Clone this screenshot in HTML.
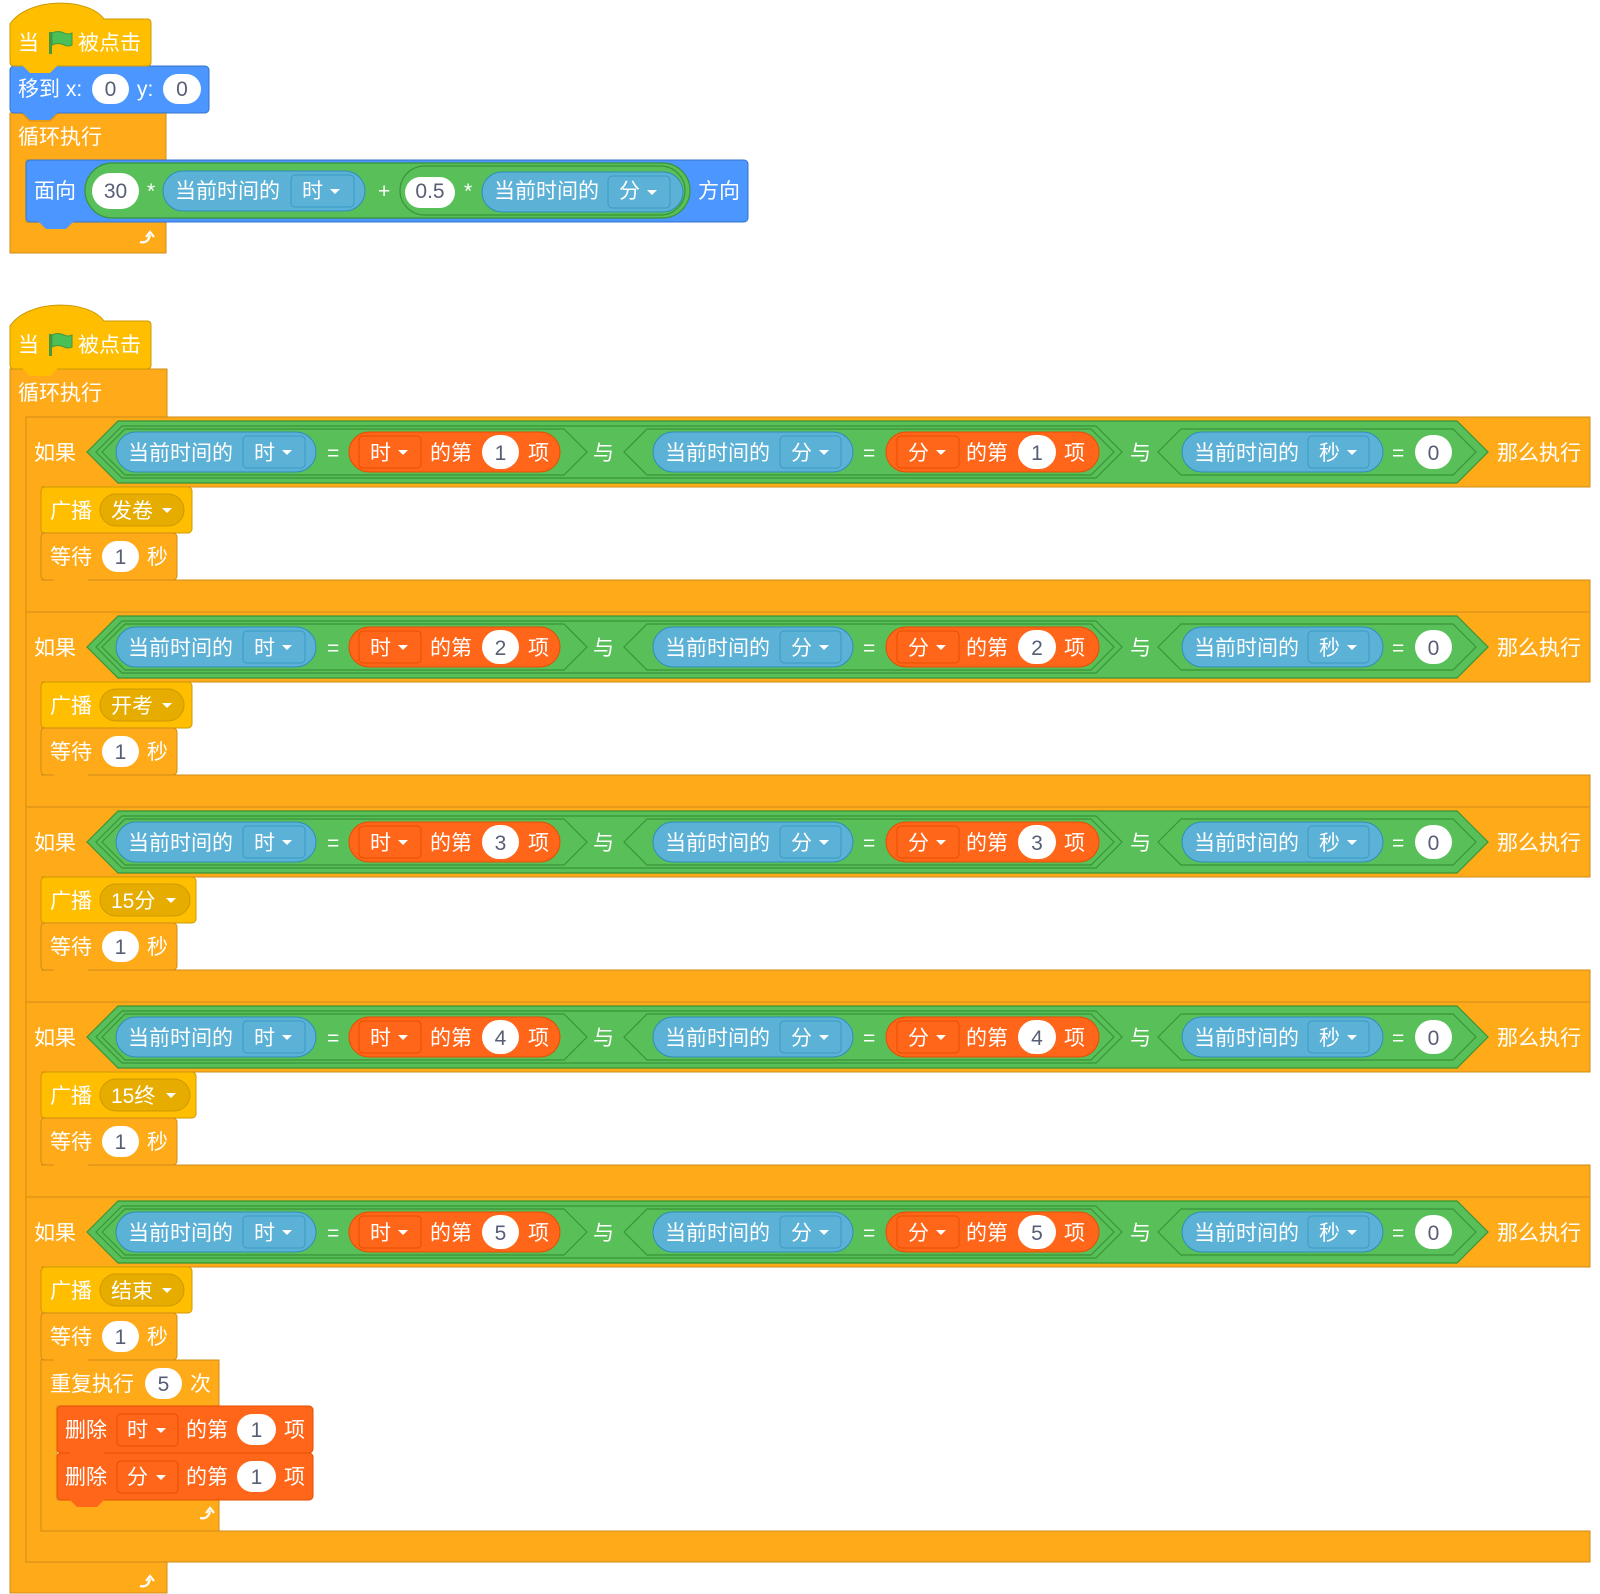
<!DOCTYPE html>
<html><head><meta charset="utf-8"><style>
html,body{margin:0;padding:0;background:#fff;}
svg{display:block;}
text{font-family:"Liberation Sans","Noto Sans CJK SC",sans-serif;font-size:21px;fill:#fff;}
.d{fill:#575E75;}
.g{fill:#59C059;stroke:#389438;stroke-width:1.2;}
.s{fill:#5CB1D6;stroke:#2E8EB8;stroke-width:1;}
.sb{fill:#5CB1D6;stroke:#3A9AC4;stroke-width:1;}
.l{fill:#FF661A;stroke:#E64D00;stroke-width:1;}
.lb{fill:#FF661A;stroke:#E64D00;stroke-width:1;}
.wi{fill:#fff;}
.w{fill:#fff;}
.c{fill:#FFAB19;stroke:#CF8B17;stroke-width:1;}
.e{fill:#FFBF00;stroke:#CC9900;stroke-width:1;}
.eb{fill:#E6AC00;stroke:#CC9900;stroke-width:1;}
.m{fill:#4C97FF;stroke:#3373CC;stroke-width:1;}
</style></head><body>
<svg width="1600" height="1594" viewBox="0 0 1600 1594" xmlns="http://www.w3.org/2000/svg">

<!-- ================= SCRIPT 1 ================= -->
<path class="c" d="M10,113 H166 V160 H26 V222 H166 V253 H10 Z"/>
<path class="c" d="M10,113 h12 l8,8 h20 l8,-8 z" stroke="none"/>
<!-- move block -->
<rect class="m" x="10" y="66" width="199" height="47" rx="4"/>
<path d="M22,112 l8,8 h20 l8,-8 z" fill="#4C97FF"/>
<text x="18" y="96">移到 x:</text>
<rect class="wi" x="92" y="74" width="37" height="30" rx="15"/><text class="d" x="110.5" y="96" text-anchor="middle">0</text>
<text x="137" y="96">y:</text>
<rect class="wi" x="163" y="74" width="38" height="30" rx="15"/><text class="d" x="182" y="96" text-anchor="middle">0</text>
<!-- hat -->
<path class="e" d="M10,24 C28,-3 88,-3 104,19 L147,19 Q151,19 151,23 L151,62 Q151,66 147,66 L14,66 Q10,66 10,62 Z"/>
<path d="M22,65 l8,8 h20 l8,-8 z" fill="#FFBF00"/>
<text x="18" y="50">当</text>
<rect x="49" y="32" width="3" height="22" fill="#45993D"/>
<path d="M52,33 q6,-3 12,0 q4,2 8,0 v12 q-4,2 -8,0 q-6,-3 -12,0 z" fill="#4CBF56" stroke="#45993D" stroke-width="1"/>
<text x="78" y="50">被点击</text>
<text x="18" y="144">循环执行</text>
<!-- direction block -->
<rect class="m" x="26" y="160" width="722" height="62" rx="4"/>
<path d="M38,221 l8,8 h20 l8,-8 z" fill="#4C97FF"/>
<text x="34" y="198">面向</text>
<rect class="g" x="85" y="163" width="605" height="55" rx="27.5"/>
<rect class="wi" x="92" y="173" width="47" height="36" rx="18"/><text class="d" x="115.5" y="198" text-anchor="middle">30</text>
<text x="147" y="198">*</text>
<rect class="s" x="163" y="171" width="202" height="40" rx="20"/>
<text x="175" y="198">当前时间的</text>
<rect class="sb" x="291" y="175" width="63" height="32" rx="4"/>
<text x="302" y="198">时</text><path d="M330,189 h10 l-5,5z" class="w"/>
<text x="378" y="198">+</text>
<rect class="g" x="400" y="166" width="285" height="49" rx="24.5"/>
<rect class="wi" x="405" y="177" width="50" height="31" rx="15.5"/><text class="d" x="430" y="198" text-anchor="middle">0.5</text>
<text x="464" y="198">*</text>
<rect class="s" x="482" y="172" width="201" height="40" rx="20"/>
<text x="494" y="198">当前时间的</text>
<rect class="sb" x="608" y="176" width="62" height="32" rx="4"/>
<text x="619" y="198">分</text><path d="M647,190 h10 l-5,5z" class="w"/>
<text x="698" y="198">方向</text>
<path d="M140,242 q8,2 10,-7 m-4,2 l4,-5 l4,5" stroke="#fff" stroke-width="2.2" fill="none"/>

<!-- ================= SCRIPT 2 ================= -->
<path class="c" d="M10,369 H167 V417 H27 V1562 H167 V1593 H10 Z"/>
<path class="e" d="M10,326 C28,299 88,299 104,321 L147,321 Q151,321 151,325 L151,365 Q151,369 147,369 L14,369 Q10,369 10,365 Z"/>
<path d="M22,368 l8,8 h20 l8,-8 z" fill="#FFBF00"/>
<text x="18" y="352">当</text>
<rect x="49" y="334" width="3" height="22" fill="#45993D"/>
<path d="M52,335 q6,-3 12,0 q4,2 8,0 v12 q-4,2 -8,0 q-6,-3 -12,0 z" fill="#4CBF56" stroke="#45993D" stroke-width="1"/>
<text x="78" y="352">被点击</text>
<text x="18" y="400">循环执行</text>
<path d="M140,1586 q8,2 10,-7 m-4,2 l4,-5 l4,5" stroke="#fff" stroke-width="2.2" fill="none"/>

<!-- IF 1 -->
<g transform="translate(0,417)">
<path class="c" d="M26,0 H1590 V70 H42 V163 H1590 V195 H26 Z"/>
<polygon class="g" points="87,35 118,4 1457,4 1488,35 1457,66 118,66"/>
<polygon class="g" points="96,35 122,9 1096,9 1122,35 1096,61 122,61"/>
<polygon class="g" points="102,35 125,12 564,12 587,35 564,58 125,58"/>
<polygon class="g" points="624,35 647,12 1091,12 1114,35 1091,58 647,58"/>
<polygon class="g" points="1158,35 1181,12 1453,12 1476,35 1453,58 1181,58"/>
<text x="34" y="43">如果</text>
<rect class="s" x="116" y="15" width="200" height="40" rx="20"/><text x="128" y="43">当前时间的</text>
<rect class="sb" x="243" y="19" width="62" height="32" rx="4"/><text x="254" y="43">时</text><path d="M282,33 h10 l-5,5z" class="w"/>
<text x="327" y="43">=</text>
<rect class="l" x="349" y="15" width="211" height="40" rx="20"/>
<rect class="lb" x="359" y="19" width="62" height="32" rx="4"/><text x="370" y="43">时</text><path d="M398,33 h10 l-5,5z" class="w"/>
<text x="430" y="43">的第</text>
<rect class="wi" x="482" y="18" width="37" height="34" rx="17"/><text class="d" x="500.5" y="43" text-anchor="middle">1</text>
<text x="528" y="43">项</text>
<text x="593" y="43">与</text>
<rect class="s" x="653" y="15" width="200" height="40" rx="20"/><text x="665" y="43">当前时间的</text>
<rect class="sb" x="780" y="19" width="61" height="32" rx="4"/><text x="791" y="43">分</text><path d="M819,33 h10 l-5,5z" class="w"/>
<text x="863" y="43">=</text>
<rect class="l" x="886" y="15" width="213" height="40" rx="20"/>
<rect class="lb" x="897" y="19" width="62" height="32" rx="4"/><text x="908" y="43">分</text><path d="M936,33 h10 l-5,5z" class="w"/>
<text x="966" y="43">的第</text>
<rect class="wi" x="1018" y="18" width="38" height="34" rx="17"/><text class="d" x="1037" y="43" text-anchor="middle">1</text>
<text x="1064" y="43">项</text>
<text x="1130" y="43">与</text>
<rect class="s" x="1182" y="15" width="201" height="40" rx="20"/><text x="1194" y="43">当前时间的</text>
<rect class="sb" x="1308" y="19" width="61" height="32" rx="4"/><text x="1319" y="43">秒</text><path d="M1347,33 h10 l-5,5z" class="w"/>
<text x="1392" y="43">=</text>
<rect class="wi" x="1415" y="18" width="37" height="34" rx="17"/><text class="d" x="1433.5" y="43" text-anchor="middle">0</text>
<text x="1497" y="43">那么执行</text>
<rect class="e" x="41" y="70" width="151" height="46" rx="4"/>
<path d="M53,115 l8,8 h20 l8,-8 z" fill="#FFBF00"/>
<text x="50" y="101">广播</text>
<rect class="eb" x="100" y="77" width="84" height="32" rx="16"/><text x="111" y="101">发卷</text><path d="M162,91 h10 l-5,5z" class="w"/>
<rect class="c" x="41" y="116" width="136" height="47" rx="4"/>
<path d="M53,162 l8,8 h20 l8,-8 z" fill="#FFAB19"/>
<text x="50" y="147">等待</text>
<rect class="wi" x="102" y="124" width="37" height="31" rx="15.5"/><text class="d" x="120.5" y="147" text-anchor="middle">1</text>
<text x="147" y="147">秒</text>
</g>

<!-- IF 2 -->
<g transform="translate(0,612)">
<path class="c" d="M26,0 H1590 V70 H42 V163 H1590 V195 H26 Z"/>
<polygon class="g" points="87,35 118,4 1457,4 1488,35 1457,66 118,66"/>
<polygon class="g" points="96,35 122,9 1096,9 1122,35 1096,61 122,61"/>
<polygon class="g" points="102,35 125,12 564,12 587,35 564,58 125,58"/>
<polygon class="g" points="624,35 647,12 1091,12 1114,35 1091,58 647,58"/>
<polygon class="g" points="1158,35 1181,12 1453,12 1476,35 1453,58 1181,58"/>
<text x="34" y="43">如果</text>
<rect class="s" x="116" y="15" width="200" height="40" rx="20"/><text x="128" y="43">当前时间的</text>
<rect class="sb" x="243" y="19" width="62" height="32" rx="4"/><text x="254" y="43">时</text><path d="M282,33 h10 l-5,5z" class="w"/>
<text x="327" y="43">=</text>
<rect class="l" x="349" y="15" width="211" height="40" rx="20"/>
<rect class="lb" x="359" y="19" width="62" height="32" rx="4"/><text x="370" y="43">时</text><path d="M398,33 h10 l-5,5z" class="w"/>
<text x="430" y="43">的第</text>
<rect class="wi" x="482" y="18" width="37" height="34" rx="17"/><text class="d" x="500.5" y="43" text-anchor="middle">2</text>
<text x="528" y="43">项</text>
<text x="593" y="43">与</text>
<rect class="s" x="653" y="15" width="200" height="40" rx="20"/><text x="665" y="43">当前时间的</text>
<rect class="sb" x="780" y="19" width="61" height="32" rx="4"/><text x="791" y="43">分</text><path d="M819,33 h10 l-5,5z" class="w"/>
<text x="863" y="43">=</text>
<rect class="l" x="886" y="15" width="213" height="40" rx="20"/>
<rect class="lb" x="897" y="19" width="62" height="32" rx="4"/><text x="908" y="43">分</text><path d="M936,33 h10 l-5,5z" class="w"/>
<text x="966" y="43">的第</text>
<rect class="wi" x="1018" y="18" width="38" height="34" rx="17"/><text class="d" x="1037" y="43" text-anchor="middle">2</text>
<text x="1064" y="43">项</text>
<text x="1130" y="43">与</text>
<rect class="s" x="1182" y="15" width="201" height="40" rx="20"/><text x="1194" y="43">当前时间的</text>
<rect class="sb" x="1308" y="19" width="61" height="32" rx="4"/><text x="1319" y="43">秒</text><path d="M1347,33 h10 l-5,5z" class="w"/>
<text x="1392" y="43">=</text>
<rect class="wi" x="1415" y="18" width="37" height="34" rx="17"/><text class="d" x="1433.5" y="43" text-anchor="middle">0</text>
<text x="1497" y="43">那么执行</text>
<rect class="e" x="41" y="70" width="151" height="46" rx="4"/>
<path d="M53,115 l8,8 h20 l8,-8 z" fill="#FFBF00"/>
<text x="50" y="101">广播</text>
<rect class="eb" x="100" y="77" width="84" height="32" rx="16"/><text x="111" y="101">开考</text><path d="M162,91 h10 l-5,5z" class="w"/>
<rect class="c" x="41" y="116" width="136" height="47" rx="4"/>
<path d="M53,162 l8,8 h20 l8,-8 z" fill="#FFAB19"/>
<text x="50" y="147">等待</text>
<rect class="wi" x="102" y="124" width="37" height="31" rx="15.5"/><text class="d" x="120.5" y="147" text-anchor="middle">1</text>
<text x="147" y="147">秒</text>
</g>

<!-- IF 3 -->
<g transform="translate(0,807)">
<path class="c" d="M26,0 H1590 V70 H42 V163 H1590 V195 H26 Z"/>
<polygon class="g" points="87,35 118,4 1457,4 1488,35 1457,66 118,66"/>
<polygon class="g" points="96,35 122,9 1096,9 1122,35 1096,61 122,61"/>
<polygon class="g" points="102,35 125,12 564,12 587,35 564,58 125,58"/>
<polygon class="g" points="624,35 647,12 1091,12 1114,35 1091,58 647,58"/>
<polygon class="g" points="1158,35 1181,12 1453,12 1476,35 1453,58 1181,58"/>
<text x="34" y="43">如果</text>
<rect class="s" x="116" y="15" width="200" height="40" rx="20"/><text x="128" y="43">当前时间的</text>
<rect class="sb" x="243" y="19" width="62" height="32" rx="4"/><text x="254" y="43">时</text><path d="M282,33 h10 l-5,5z" class="w"/>
<text x="327" y="43">=</text>
<rect class="l" x="349" y="15" width="211" height="40" rx="20"/>
<rect class="lb" x="359" y="19" width="62" height="32" rx="4"/><text x="370" y="43">时</text><path d="M398,33 h10 l-5,5z" class="w"/>
<text x="430" y="43">的第</text>
<rect class="wi" x="482" y="18" width="37" height="34" rx="17"/><text class="d" x="500.5" y="43" text-anchor="middle">3</text>
<text x="528" y="43">项</text>
<text x="593" y="43">与</text>
<rect class="s" x="653" y="15" width="200" height="40" rx="20"/><text x="665" y="43">当前时间的</text>
<rect class="sb" x="780" y="19" width="61" height="32" rx="4"/><text x="791" y="43">分</text><path d="M819,33 h10 l-5,5z" class="w"/>
<text x="863" y="43">=</text>
<rect class="l" x="886" y="15" width="213" height="40" rx="20"/>
<rect class="lb" x="897" y="19" width="62" height="32" rx="4"/><text x="908" y="43">分</text><path d="M936,33 h10 l-5,5z" class="w"/>
<text x="966" y="43">的第</text>
<rect class="wi" x="1018" y="18" width="38" height="34" rx="17"/><text class="d" x="1037" y="43" text-anchor="middle">3</text>
<text x="1064" y="43">项</text>
<text x="1130" y="43">与</text>
<rect class="s" x="1182" y="15" width="201" height="40" rx="20"/><text x="1194" y="43">当前时间的</text>
<rect class="sb" x="1308" y="19" width="61" height="32" rx="4"/><text x="1319" y="43">秒</text><path d="M1347,33 h10 l-5,5z" class="w"/>
<text x="1392" y="43">=</text>
<rect class="wi" x="1415" y="18" width="37" height="34" rx="17"/><text class="d" x="1433.5" y="43" text-anchor="middle">0</text>
<text x="1497" y="43">那么执行</text>
<rect class="e" x="41" y="70" width="155" height="46" rx="4"/>
<path d="M53,115 l8,8 h20 l8,-8 z" fill="#FFBF00"/>
<text x="50" y="101">广播</text>
<rect class="eb" x="100" y="77" width="90" height="32" rx="16"/><text x="111" y="101">15分</text><path d="M166,91 h10 l-5,5z" class="w"/>
<rect class="c" x="41" y="116" width="136" height="47" rx="4"/>
<path d="M53,162 l8,8 h20 l8,-8 z" fill="#FFAB19"/>
<text x="50" y="147">等待</text>
<rect class="wi" x="102" y="124" width="37" height="31" rx="15.5"/><text class="d" x="120.5" y="147" text-anchor="middle">1</text>
<text x="147" y="147">秒</text>
</g>

<!-- IF 4 -->
<g transform="translate(0,1002)">
<path class="c" d="M26,0 H1590 V70 H42 V163 H1590 V195 H26 Z"/>
<polygon class="g" points="87,35 118,4 1457,4 1488,35 1457,66 118,66"/>
<polygon class="g" points="96,35 122,9 1096,9 1122,35 1096,61 122,61"/>
<polygon class="g" points="102,35 125,12 564,12 587,35 564,58 125,58"/>
<polygon class="g" points="624,35 647,12 1091,12 1114,35 1091,58 647,58"/>
<polygon class="g" points="1158,35 1181,12 1453,12 1476,35 1453,58 1181,58"/>
<text x="34" y="43">如果</text>
<rect class="s" x="116" y="15" width="200" height="40" rx="20"/><text x="128" y="43">当前时间的</text>
<rect class="sb" x="243" y="19" width="62" height="32" rx="4"/><text x="254" y="43">时</text><path d="M282,33 h10 l-5,5z" class="w"/>
<text x="327" y="43">=</text>
<rect class="l" x="349" y="15" width="211" height="40" rx="20"/>
<rect class="lb" x="359" y="19" width="62" height="32" rx="4"/><text x="370" y="43">时</text><path d="M398,33 h10 l-5,5z" class="w"/>
<text x="430" y="43">的第</text>
<rect class="wi" x="482" y="18" width="37" height="34" rx="17"/><text class="d" x="500.5" y="43" text-anchor="middle">4</text>
<text x="528" y="43">项</text>
<text x="593" y="43">与</text>
<rect class="s" x="653" y="15" width="200" height="40" rx="20"/><text x="665" y="43">当前时间的</text>
<rect class="sb" x="780" y="19" width="61" height="32" rx="4"/><text x="791" y="43">分</text><path d="M819,33 h10 l-5,5z" class="w"/>
<text x="863" y="43">=</text>
<rect class="l" x="886" y="15" width="213" height="40" rx="20"/>
<rect class="lb" x="897" y="19" width="62" height="32" rx="4"/><text x="908" y="43">分</text><path d="M936,33 h10 l-5,5z" class="w"/>
<text x="966" y="43">的第</text>
<rect class="wi" x="1018" y="18" width="38" height="34" rx="17"/><text class="d" x="1037" y="43" text-anchor="middle">4</text>
<text x="1064" y="43">项</text>
<text x="1130" y="43">与</text>
<rect class="s" x="1182" y="15" width="201" height="40" rx="20"/><text x="1194" y="43">当前时间的</text>
<rect class="sb" x="1308" y="19" width="61" height="32" rx="4"/><text x="1319" y="43">秒</text><path d="M1347,33 h10 l-5,5z" class="w"/>
<text x="1392" y="43">=</text>
<rect class="wi" x="1415" y="18" width="37" height="34" rx="17"/><text class="d" x="1433.5" y="43" text-anchor="middle">0</text>
<text x="1497" y="43">那么执行</text>
<rect class="e" x="41" y="70" width="155" height="46" rx="4"/>
<path d="M53,115 l8,8 h20 l8,-8 z" fill="#FFBF00"/>
<text x="50" y="101">广播</text>
<rect class="eb" x="100" y="77" width="90" height="32" rx="16"/><text x="111" y="101">15终</text><path d="M166,91 h10 l-5,5z" class="w"/>
<rect class="c" x="41" y="116" width="136" height="47" rx="4"/>
<path d="M53,162 l8,8 h20 l8,-8 z" fill="#FFAB19"/>
<text x="50" y="147">等待</text>
<rect class="wi" x="102" y="124" width="37" height="31" rx="15.5"/><text class="d" x="120.5" y="147" text-anchor="middle">1</text>
<text x="147" y="147">秒</text>
</g>

<!-- IF 5 -->
<g transform="translate(0,1197)">
<path class="c" d="M26,0 H1590 V70 H42 V334 H1590 V365 H26 Z"/>
<polygon class="g" points="87,35 118,4 1457,4 1488,35 1457,66 118,66"/>
<polygon class="g" points="96,35 122,9 1096,9 1122,35 1096,61 122,61"/>
<polygon class="g" points="102,35 125,12 564,12 587,35 564,58 125,58"/>
<polygon class="g" points="624,35 647,12 1091,12 1114,35 1091,58 647,58"/>
<polygon class="g" points="1158,35 1181,12 1453,12 1476,35 1453,58 1181,58"/>
<text x="34" y="43">如果</text>
<rect class="s" x="116" y="15" width="200" height="40" rx="20"/><text x="128" y="43">当前时间的</text>
<rect class="sb" x="243" y="19" width="62" height="32" rx="4"/><text x="254" y="43">时</text><path d="M282,33 h10 l-5,5z" class="w"/>
<text x="327" y="43">=</text>
<rect class="l" x="349" y="15" width="211" height="40" rx="20"/>
<rect class="lb" x="359" y="19" width="62" height="32" rx="4"/><text x="370" y="43">时</text><path d="M398,33 h10 l-5,5z" class="w"/>
<text x="430" y="43">的第</text>
<rect class="wi" x="482" y="18" width="37" height="34" rx="17"/><text class="d" x="500.5" y="43" text-anchor="middle">5</text>
<text x="528" y="43">项</text>
<text x="593" y="43">与</text>
<rect class="s" x="653" y="15" width="200" height="40" rx="20"/><text x="665" y="43">当前时间的</text>
<rect class="sb" x="780" y="19" width="61" height="32" rx="4"/><text x="791" y="43">分</text><path d="M819,33 h10 l-5,5z" class="w"/>
<text x="863" y="43">=</text>
<rect class="l" x="886" y="15" width="213" height="40" rx="20"/>
<rect class="lb" x="897" y="19" width="62" height="32" rx="4"/><text x="908" y="43">分</text><path d="M936,33 h10 l-5,5z" class="w"/>
<text x="966" y="43">的第</text>
<rect class="wi" x="1018" y="18" width="38" height="34" rx="17"/><text class="d" x="1037" y="43" text-anchor="middle">5</text>
<text x="1064" y="43">项</text>
<text x="1130" y="43">与</text>
<rect class="s" x="1182" y="15" width="201" height="40" rx="20"/><text x="1194" y="43">当前时间的</text>
<rect class="sb" x="1308" y="19" width="61" height="32" rx="4"/><text x="1319" y="43">秒</text><path d="M1347,33 h10 l-5,5z" class="w"/>
<text x="1392" y="43">=</text>
<rect class="wi" x="1415" y="18" width="37" height="34" rx="17"/><text class="d" x="1433.5" y="43" text-anchor="middle">0</text>
<text x="1497" y="43">那么执行</text>
<rect class="e" x="41" y="70" width="151" height="46" rx="4"/>
<path d="M53,115 l8,8 h20 l8,-8 z" fill="#FFBF00"/>
<text x="50" y="101">广播</text>
<rect class="eb" x="100" y="77" width="84" height="32" rx="16"/><text x="111" y="101">结束</text><path d="M162,91 h10 l-5,5z" class="w"/>
<rect class="c" x="41" y="116" width="136" height="47" rx="4"/>
<text x="50" y="147">等待</text>
<rect class="wi" x="102" y="124" width="37" height="31" rx="15.5"/><text class="d" x="120.5" y="147" text-anchor="middle">1</text>
<text x="147" y="147">秒</text>
<!-- repeat -->
<path class="c" d="M41,163 H219 V209 H57 V303 H219 V334 H41 Z"/>
<path d="M53,162 l8,8 h20 l8,-8 z" fill="#FFAB19"/>
<text x="50" y="194">重复执行</text>
<rect class="wi" x="145" y="171" width="37" height="31" rx="15.5"/><text class="d" x="163.5" y="194" text-anchor="middle">5</text>
<text x="190" y="194">次</text>
<path d="M200,321 q8,2 10,-7 m-4,2 l4,-5 l4,5" stroke="#fff" stroke-width="2.2" fill="none"/>
<!-- delete 1 -->
<rect class="l" x="57" y="209" width="256" height="47" rx="4"/>
<text x="65" y="240">删除</text>
<rect class="lb" x="117" y="217" width="61" height="32" rx="4"/><text x="127" y="240">时</text><path d="M156,231 h10 l-5,5z" class="w"/>
<text x="186" y="240">的第</text>
<rect class="wi" x="237" y="217" width="39" height="31" rx="15.5"/><text class="d" x="256.5" y="240" text-anchor="middle">1</text>
<text x="284" y="240">项</text>
<!-- delete 2 -->
<rect class="l" x="57" y="256" width="256" height="47" rx="4"/>
<path d="M69,255 l8,8 h20 l8,-8 z" fill="#FF661A"/>
<path d="M69,302 l8,8 h20 l8,-8 z" fill="#FF661A"/>
<text x="65" y="287">删除</text>
<rect class="lb" x="117" y="264" width="61" height="32" rx="4"/><text x="127" y="287">分</text><path d="M156,278 h10 l-5,5z" class="w"/>
<text x="186" y="287">的第</text>
<rect class="wi" x="237" y="264" width="39" height="31" rx="15.5"/><text class="d" x="256.5" y="287" text-anchor="middle">1</text>
<text x="284" y="287">项</text>
</g>
</svg>
</body></html>
